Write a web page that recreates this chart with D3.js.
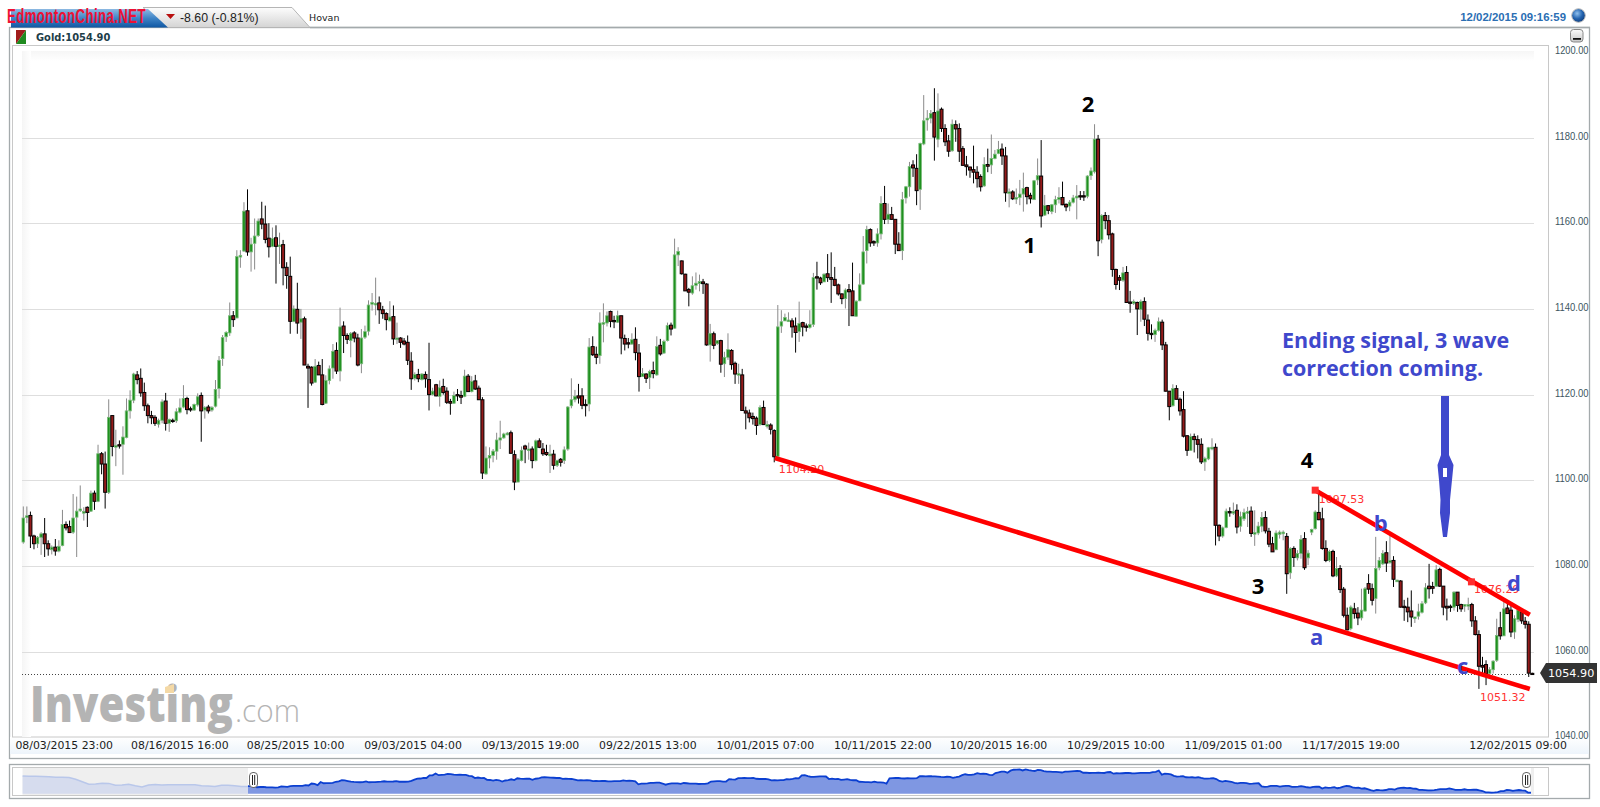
<!DOCTYPE html>
<html><head><meta charset="utf-8">
<script src="https://cdn.jsdelivr.net/npm/d3@7/dist/d3.min.js"></script>
<style>html,body{margin:0;padding:0;background:#fff;overflow:hidden}svg{display:block}</style>
</head><body><svg id="c" width="1600" height="807"></svg>
<script>
// Candles: open, high, low, close, left to right.
const augustCandles=[
[1085.6,1093.9,1085.2,1091.2],[1091.4,1093.9,1090,1091.7],[1091.8,1092.7,1084.2,1087],[1087,1087.3,1083.9,1085.2],[1085.2,1087,1084.2,1086.7],[1086.7,1087.9,1082.6,1087.5],[1087.5,1091.2,1082.1,1085.2],[1085.2,1086,1082.4,1084],[1083.8,1084.8,1082.7,1084.4],[1084.4,1086.3,1082.4,1083.5],[1083.5,1086,1083.2,1084.6],[1084.8,1093.1,1084.6,1089.7],[1089.7,1090.4,1088.3,1088.9],[1089.2,1090.6,1087.7,1087.8],[1087.9,1096.8,1087.5,1091.2],[1091.4,1096.2,1082.1,1092.8],[1092.9,1098.8,1092.6,1093.3],[1092.5,1093.7,1090.6,1092.7],[1093.7,1093.9,1089.1,1092.5],[1092.8,1097.6,1092.6,1097],[1097,1097.6,1093.1,1095.1],[1095.1,1108.3,1094.9,1106.2],[1106.2,1106.6,1101.4,1103.8],[1103.8,1106.7,1093.4,1097.2],[1097.2,1118.9,1096.8,1114.7],[1115.1,1115.1,1105.6,1107.9],[1108,1111.8,1103.3,1108.1],[1108.3,1109.3,1107.4,1108],[1108.4,1112.6,1101.3,1110.1],
[1110,1119.1,1109.8,1116.2],[1116.2,1121,1114.4,1118.7],[1118.7,1125.1,1118,1124.8],[1124.6,1125.5,1122.4,1123.5],[1123.8,1126.1,1119.5,1120.4],[1120.5,1122.8,1116.2,1117.4],[1117.4,1117.9,1113.3,1115.1],[1115.1,1116.2,1113.1,1114.6],[1114.7,1115.2,1112.7,1113.3],[1113.1,1114.4,1112.3,1114],[1114,1118.9,1113.3,1118.3],[1118.5,1120.4,1111.6,1113.3],[1113.3,1114.4,1111.3,1114.2],[1114,1114.4,1113.4,1113.9],[1113.9,1116.8,1113.4,1116],[1115.9,1119.1,1115.6,1116.9],[1117.1,1122.2,1116.8,1119.1],[1119.1,1119.5,1115.4,1116.5],[1116.7,1117.2,1116,1116.5],[1116.4,1117.9,1116.2,1117.7],[1117.6,1120.3,1117.2,1119.5],[1119.8,1120.5,1109,1116.2],[1116.4,1117.3,1114.4,1117],[1117.1,1117.6,1115.6,1116.2],[1116.4,1117.3,1116,1117],[1117.3,1123.4,1117,1121.2],[1121.4,1129,1119.1,1128],[1128.4,1133.9,1126.7,1133.3],[1133.5,1134.8,1132.3,1134.5],[1134.4,1141.5,1133.7,1138.4],[1138.4,1139.5,1135.8,1137.5],[1137.9,1153.7,1137.8,1152.2],[1152.1,1153.7,1149.6,1152.5],[1153.5,1164.9,1153.3,1162.8],[1162.9,1167.9,1152.4,1153.3],[1153.3,1156.6,1148.7,1155.1],[1155.3,1161.1,1149.2,1157],[1157.1,1161.1,1156.8,1160.5],[1161,1165,1158.6,1159.8],[1159.8,1164.1,1155.3,1156.2],[1156.5,1160,1152,1154.5]];
const septemberCandles=[
[1154.6,1159,1154.4,1156.4],[1156.6,1159.5,1145.9,1154.6],[1154.6,1157.8,1150.5,1154.9],[1155,1156.1,1145.5,1149.6],[1149.7,1150.9,1144.7,1147.8],[1147.6,1152.2,1134.2,1137.1],[1137.1,1140.8,1136.9,1140],[1139.9,1146.1,1134.2,1136.7],[1136.9,1140,1133,1137.7],[1137.7,1138.2,1126.9,1126.9],[1126.6,1127.2,1116.9,1126.2],[1126.4,1126.6,1122.1,1122.7],[1122.9,1128.3,1122.7,1126.6],[1126.8,1127.7,1124.6,1124.6],[1124.6,1128.3,1117.5,1117.7],[1118,1124.5,1117.8,1123.3],[1123.3,1126.8,1122.4,1126],[1126.2,1131.8,1123.7,1130.1],[1130.3,1132.2,1124.8,1125.5],[1125.5,1140.3,1123.1,1135.8],[1136,1137.1,1129.7,1133.8],[1133.8,1134.3,1131.8,1132.9],[1132.6,1134.6,1128.7,1134.3],[1134.4,1134.8,1132.2,1133.2],[1133.2,1134.2,1126.6,1126.9],[1127.2,1135.3,1125,1133.2],[1133.4,1136.1,1133,1134.7],[1134.8,1142,1133.8,1140.9],[1141.1,1143.7,1139.6,1141.5],[1141.2,1147.3,1138.5,1141.3],[1141.4,1142.9,1136.5,1139.8],[1139.8,1140.7,1137.7,1138.9],[1138.9,1139.2,1135,1137.5],[1137.2,1141.8,1137.1,1138.1],[1138.2,1140.8,1131.6,1133],[1133,1136.8,1131.8,1133.2],[1133.2,1133.4,1130.9,1132.2],[1132.5,1133.2,1131.5,1131.8],[1132.2,1133.8,1126.9,1128],[1127.8,1129.9,1121.1,1123.7],[1123.8,1125.2,1123.3,1124.7],[1124.7,1126,1122.9,1123.7],[1123.5,1125,1123.3,1124.8],[1124.7,1125.4,1121.6,1123.7],[1123.5,1132.1,1116.3,1120],[1120,1121.6,1119.8,1120.8],[1122.3,1122.5,1119.6,1119.7],[1119.6,1123.3,1117.2,1121.6],[1121.9,1123.7,1120,1120.5],[1120.8,1121.7,1117.8,1118.2],[1118.4,1119,1115.3,1118],[1118,1120.7,1117.8,1119.8],[1120,1121.3,1118.5,1119.7],[1119.8,1120.9,1117.8,1119.4],[1119.6,1125.8,1119.4,1124.3],[1124.3,1124.8,1120.7,1120.7],[1120.7,1124.3,1120.5,1123.1],[1123.2,1124.6,1121.1,1121.3],[1121.5,1122.1,1118.8,1118.8],[1118.8,1119.4,1100.3,1101.7],[1101.5,1107.9,1101.3,1105.2],[1105.2,1107.7,1102.8,1105.8],[1105.8,1107.3,1104.2,1106.8],[1106.8,1111.1,1104.8,1109.4],[1109.4,1113.9,1107.3,1109.9],[1109.9,1111.1,1109.7,1110.8],[1110.8,1111.3,1110.5,1111],[1111.1,1111.6,1106.3,1106.3],[1106,1107,1097.7,1099.6]];
const lateSeptemberCandles=[
[1099.6,1105.2,1099.5,1104.8],[1104.6,1107.9,1104.4,1107],[1108,1108.3,1104,1107.3],[1107.1,1108.8,1104.8,1107.3],[1107.3,1107.9,1102.8,1104.6],[1104.6,1109.5,1104.4,1109.2],[1109.2,1109.8,1107.5,1107.7],[1107.3,1108.7,1105.7,1106.2],[1106.5,1108.3,1105.7,1106],[1106,1108.3,1101.7,1106.1],[1106.1,1107.1,1102.5,1103.5],[1103.5,1104.8,1103.1,1104.6],[1104.9,1105.2,1103.2,1104.2],[1104.6,1107.9,1103.8,1107.1],[1107.3,1117.3,1106.9,1117.1],[1117.4,1123.8,1116.8,1118.8],[1118.8,1121.1,1118.2,1119.6],[1119.7,1122.5,1117.9,1119.2],[1119.7,1121.5,1116.6,1117.5],[1117.7,1118.9,1114.9,1117.5],[1117.8,1133.2,1116.1,1131.1],[1131.2,1133.6,1129,1129.3],[1129.4,1131.2,1127.1,1128.7],[1129.1,1139.2,1127.2,1136.7],[1136.5,1141.3,1132.2,1136.8],[1136.7,1139.4,1135.9,1138.4],[1139.4,1139.6,1135.7,1137.1],[1137.3,1138.4,1135.5,1137],[1136.9,1139.6,1136.7,1138.4],[1138.4,1138.4,1129.4,1133.2],[1133.1,1134,1130.3,1131.8],[1132.1,1133.2,1130.8,1131.8],[1131.8,1134.3,1131.6,1132.8],[1132.9,1135.7,1128,1129.8],[1129.7,1131.8,1120.7,1124.2],[1124.2,1126.2,1124.1,1124.9],[1124.8,1125,1122.7,1123.8],[1124,1125.8,1121.3,1125.4],[1125.6,1127.7,1123.8,1124.9],[1124.6,1133.6,1124.4,1131.2],[1131.5,1133,1129.1,1129.5],[1129.7,1132.8,1129.5,1132.4],[1132.6,1136.8,1132.4,1136.1],[1136.2,1136.8,1133.8,1135.3],[1135.5,1156.4,1135.4,1152.6],[1152.6,1154.4,1150,1153.4],[1151.2,1151.3,1148,1148.2],[1148.1,1148.2,1144.2,1144.2],[1144.5,1144.9,1140.6,1143.9],[1143.7,1147.6,1143.3,1145.4],[1145.5,1148.5,1144.5,1146],[1145.9,1148,1144.1,1146.4],[1146.3,1147,1143.5,1145.9],[1145.8,1146,1131.4,1131.6],[1131.6,1136.5,1127.7,1134.3],[1134.2,1134.7,1130.6,1131.5],[1131.9,1132.7,1131.6,1132.6],[1132.6,1132.8,1125.1,1127.1],[1127.2,1130,1124.1,1128.7],[1128.7,1134.3,1128.1,1130.5],[1130.3,1130.6,1125.8,1127],[1127.3,1127.7,1122.5,1124.8],[1124.8,1127.2,1122.5,1124.9],[1124.6,1126,1116.3,1116.3],[1116.2,1117.2,1111.9,1115.7],[1115.7,1116.5,1113.5,1114.6],[1114.9,1115.8,1113,1114.4],[1114.5,1114.9,1110.6,1112.8]];
const octoberCandles=[
[1113,1117.5,1112.7,1117],[1117,1118.6,1112.9,1113],[1112.6,1113.9,1112.1,1113],[1112.9,1113.3,1110.7,1111.9],[1111.6,1111.9,1104.2,1105.5],[1105.6,1140.9,1105.4,1135.8],[1136,1139.7,1134.4,1137],[1137.2,1138.9,1137.2,1138],[1137.2,1139.2,1137,1137.4],[1137.2,1137.8,1133.3,1135.8],[1136,1138,1129.8,1134.5],[1134.7,1141.7,1132.3,1136.6],[1136.8,1137,1133.6,1135.8],[1136,1136.6,1134.7,1135.7],[1135.7,1139.7,1135.4,1136.4],[1136.4,1148.4,1135.8,1147.3],[1147.5,1151,1144.5,1147.2],[1147.2,1147.5,1145.6,1146.1],[1146.3,1148.3,1146.3,1148.1],[1148.2,1152.8,1146.3,1147.3],[1147.3,1153.2,1141.4,1146.9],[1146.9,1149.8,1145.3,1145.5],[1145.6,1145.9,1143.1,1143.5],[1143.5,1143.6,1141.1,1142.4],[1142.4,1144.8,1140.1,1144.4],[1144.5,1145.8,1136,1144],[1144.2,1150.8,1138.4,1138.4],[1138.3,1142,1138.1,1141.8],[1141.9,1148.3,1141.8,1145.6],[1145.8,1157,1145.6,1153.3],[1153.6,1159.4,1150.6,1158.5],[1158.5,1158.8,1154.5,1155.4],[1155.7,1156,1154.7,1155.4],[1155.4,1158.8,1154.5,1157.5],[1157.5,1166.3,1156.2,1164.6],[1164.6,1168.7,1159.8,1160.9],[1160.9,1164.6,1159.8,1162.1],[1162,1163.8,1160.8,1160.9],[1160.9,1160.9,1152.8,1155.1],[1155.1,1157.9,1153.6,1153.6],[1153.6,1167.3,1151.4,1165.5],[1165.9,1168.7,1164.6,1168.5],[1168.5,1174.3,1166.2,1173.2],[1173.6,1174.7,1170.8,1172.9],[1172.8,1176.1,1164.2,1167.6],[1167.9,1178.8,1163.1,1178.6],[1178.5,1189.9,1178.2,1183.9],[1184.1,1186.4,1181.6,1184.5],[1184.5,1186.4,1183.3,1185.6],[1185.8,1191.5,1174.6,1180.1],[1179.6,1190.3,1177.7,1186.2],[1186.6,1187,1181.3,1182.1],[1182.1,1183.1,1178,1179],[1179.2,1180.6,1175.5,1176.8],[1176.9,1184.2,1176.7,1183.1],[1183,1184,1179,1182],[1182.1,1183.3,1174.3,1176.8],[1177.4,1178,1173.5,1173.5],[1173.6,1175.7,1171.1,1173.2],[1173.1,1173.2,1170.6,1172.4],[1172.5,1178.1,1169.3,1171.9],[1171.9,1173.3,1168.3,1170.4],[1170.9,1171.4,1167.4,1168.5],[1168.7,1175.4,1168.5,1173.7],[1173.7,1177.4,1171.9,1173.3],[1173.6,1180.7,1171.5,1175.1],[1175.1,1177.1,1174.9,1176.1],[1176.3,1179.2,1176.1,1177.2],[1177.3,1178.6,1173.6,1175.7]];
const lateOctoberCandles=[
[1175.7,1177.8,1165,1167.1],[1167.1,1168.1,1163.7,1167.3],[1167.3,1167.7,1165.4,1165.7],[1165.7,1168.1,1164.5,1166],[1166,1170.1,1164.2,1166.8],[1166.8,1171.8,1162.7,1168.1],[1168.3,1168.5,1164.4,1166.2],[1166.5,1167.1,1164.6,1165.7],[1165.5,1170.1,1165.4,1169.9],[1170.1,1175.1,1168.9,1171.1],[1171,1179.4,1159,1161.7],[1161.9,1166.6,1161.7,1164.1],[1164.1,1164.2,1162.1,1163],[1162.7,1164.5,1162.1,1164.3],[1164.3,1166.4,1162.4,1165.5],[1165.5,1168.4,1164.6,1166],[1166,1169.7,1164.2,1164.3],[1164.4,1164.6,1162.8,1163.8],[1164,1165.4,1162.8,1164.9],[1164.9,1166.6,1164.6,1165.9],[1165.9,1168.9,1160.9,1166.3],[1166.4,1167.5,1165.4,1166.2],[1166.4,1167.5,1165.2,1166.2],[1166.3,1171.2,1165.8,1171],[1171.1,1173,1170.1,1172.2],[1172,1183.1,1171.6,1179.6],[1179.6,1180.6,1152.3,1155.9],[1156.2,1162.1,1155.3,1161.8],[1161.8,1162.6,1158.6,1160.6],[1160.6,1161.9,1156.2,1157.3],[1157.5,1157.8,1147.5,1149.2],[1149.2,1149.4,1144.5,1145.7],[1147.3,1147.9,1144.4,1146.7],[1146.7,1149.8,1146.3,1148.4],[1148.5,1150,1141.5,1141.5],[1141.6,1144.2,1139.1,1141.3],[1141.3,1142.2,1140.9,1141.7],[1141.5,1141.7,1133.9,1140],[1139.9,1142.2,1137,1141.7],[1141.7,1142.7,1136,1137.6],[1137.4,1138.7,1132.6,1134.3],[1134.3,1136.4,1132.9,1134],[1134,1135.4,1132.3,1135],[1135,1138,1134.7,1137],[1136.9,1137.5,1130.4,1131.6],[1131.6,1132.3,1120.7,1120.8],[1120.8,1120.8,1114,1117.2],[1117.4,1122.4,1117.2,1121.4],[1121.4,1122.2,1118.9,1118.9],[1118.9,1119.3,1115.1,1116.2],[1116.5,1120.8,1110,1110.3],[1110.4,1110.5,1105.7,1107],[1107,1110.9,1106.9,1110.2],[1110.2,1110.9,1106.5,1109.5],[1109.5,1110.5,1105.1,1108.4],[1108.4,1109.8,1103.8,1104.3],[1104.3,1105.5,1102.2,1105.1],[1105,1107.8,1104.7,1107.6],[1107.5,1109.8,1107,1107.7],[1107.7,1108.6,1084.8,1089.5],[1089.5,1089.7,1085.8,1087],[1087,1089.2,1086.6,1088.9],[1089,1093.4,1088.8,1092.8],[1092.7,1093.7,1091.5,1092.4],[1092.4,1094.8,1091.9,1092.7],[1093,1094.4,1087.6,1089.1],[1089.3,1092.7,1088,1091.5],[1091,1093.4,1090.5,1092.5],[1092.3,1093.8,1089.1,1092.7]];
const novemberCandles=[
[1092.8,1093.9,1086.8,1087.6],[1087.6,1093,1084.7,1087.8],[1087.7,1090.3,1087.2,1089.3],[1089.3,1092.6,1087.9,1091.3],[1091.3,1092.8,1087.6,1088.2],[1088.1,1088.9,1084.4,1085.1],[1085.2,1086.8,1083.3,1083.3],[1083.8,1088.3,1083.7,1087.7],[1087.4,1088.3,1086.4,1087.9],[1087.6,1088.3,1086,1087.9],[1086.9,1087.7,1073.5,1078.2],[1078.4,1084.4,1077,1084.1],[1084.1,1084.6,1079.8,1082],[1081.9,1083.7,1081.3,1082.9],[1082.9,1087.2,1081.7,1086.2],[1086.4,1087.9,1079.1,1079.6],[1081.9,1083.7,1080.2,1083],[1087.9,1088.7,1087.2,1088.5],[1088.7,1093,1088.5,1092.6],[1092.5,1097.7,1090.7,1090.8],[1091,1093.6,1083.8,1084.1],[1084.1,1086,1080.9,1081.3],[1081.3,1083.8,1080.9,1083.4],[1083.4,1083.8,1077.4,1077.7],[1077.7,1082.1,1077.4,1079.4],[1079.4,1080.2,1073.7,1074.5],[1074.6,1075.1,1068,1068.5],[1068.5,1070.3,1065,1065.1],[1065.4,1070.8,1065,1070.4],[1070,1071.4,1067.7,1068.9],[1069,1070.4,1066.2,1067.9],[1067.9,1074.7,1067.3,1069.7],[1069.5,1075.1,1069.3,1074.7],[1075.9,1078.1,1073.5,1074.6],[1074.7,1075.9,1070.8,1072],[1072.4,1086.8,1068.9,1079.4],[1079.6,1082.1,1079,1081.3],[1080.5,1083.7,1080.2,1082.9],[1083.1,1085.8,1078.6,1080.7],[1080.8,1087.2,1080.5,1081.3],[1081.3,1082.3,1075.1,1076.9],[1076.5,1076.8,1076.3,1076.7],[1076.5,1076.7,1070.3,1070.4],[1070.6,1072.1,1067.2,1070.3],[1070.4,1072.6,1066.9,1069.3],[1069.5,1074.3,1065.8,1068.1],[1067.9,1068.1,1066.7,1068.1],[1068.3,1071.2,1067.5,1069.3],[1069.2,1071.8,1068.9,1071.2],[1071.4,1076,1071.1,1074.9],[1075.3,1080.5,1072.4,1074.7],[1075.2,1076.3,1073.5,1074.8],[1075.3,1080.2,1075.1,1079.1],[1079.2,1079.6,1075.1,1075.3],[1075.3,1075.3,1068.5,1070.4],[1070.6,1072.4,1067.3,1070.2],[1070.6,1071,1069.3,1070.3],[1070.4,1074.1,1069.6,1073.9],[1073.9,1073.9,1069.3,1070.8],[1071,1071.2,1069.3,1070],[1070.8,1071.1,1069.3,1071],[1070.8,1072.6,1069.7,1071],[1071,1071.4,1065.8,1067.2],[1067.2,1068.3,1063.8,1064],[1064,1065,1051.32,1056.6],[1056.8,1058.8,1054.9,1056.4],[1057,1058,1052.2,1054.9],[1054.9,1056.4,1054.1,1055.8],[1055.8,1058,1054.9,1057.8],[1058,1067.7,1057.6,1063.8],[1065.6,1069.3,1062.8,1063.7],[1063.7,1071.6,1063.8,1070],[1070.2,1071.6,1068.9,1068.9],[1069.7,1070.8,1063.4,1064.6],[1064.6,1068.5,1063,1067.7],[1067.5,1069.8,1066.9,1069.7],[1069.3,1069.7,1066.5,1067.2],[1067.1,1068.1,1065.4,1066.4],[1066.4,1067.1,1054.1,1055],[1054.95,1055.1,1054.7,1054.85]];
const candles=[...augustCandles,...septemberCandles,...lateSeptemberCandles,...octoberCandles,...lateOctoberCandles,...novemberCandles];
const priceTicks=[1200,1180,1160,1140,1120,1100,1080,1060,1040];
const dateLabels=["08/03/2015 23:00","08/16/2015 16:00","08/25/2015 10:00","09/03/2015 04:00","09/13/2015 19:00","09/22/2015 13:00","10/01/2015 07:00","10/11/2015 22:00","10/20/2015 16:00","10/29/2015 10:00","11/09/2015 01:00","11/17/2015 19:00","12/02/2015 09:00"];
const dateLabelCandle=[11.5,44,76.5,109.5,142.5,175.5,208.5,241.5,274,307,340,373,420];
const lastPrice=1054.90;
const earlierHistory=[1148,1147,1147,1146,1144,1142,1141,1140,1130,1116,1102,1103,1108,1107,1096,1098,1102,1094,1087,1098,1100,1098,1099,1099,1099,1100,1099,1094,1092,1090,1096,1096,1094,1090,1090];
const priceLabels=[{t:"1104.20",p:1101.6,i:212.3},{t:"1097.53",p:1094.7,i:364},{t:"1076.29",p:1073.6,i:407.6},{t:"1051.32",p:1048.5,i:409.3}];

const svg=d3.select("#c");
const defs=svg.append("defs");
function grad(id,stops,x2,y2){const g=defs.append("linearGradient").attr("id",id).attr("x1",0).attr("y1",0).attr("x2",x2).attr("y2",y2);
 stops.forEach(s=>g.append("stop").attr("offset",s[0]).attr("stop-color",s[1]));}
// Squeeze a text horizontally to a given width without changing its height
function fitWidth(sel,left,baseline,width){const n=sel.node().getComputedTextLength();
 sel.attr("x",0).attr("y",0).attr("transform",`translate(${left},${baseline}) scale(${width/n},1)`);return sel;}
grad("blueTab",[[0,"#8db9e2"],[0.5,"#3f84c6"],[1,"#0f57a3"]],0,1);
grad("grayTab",[[0,"#fdfdfd"],[1,"#d4d4d4"]],0,1);
grad("band",[[0,"#ffffff"],[1,"#edf4fb"]],0,1);
grad("shadeL",[[0,"#f5f5f5"],[1,"#ffffff"]],1,0);
grad("shadeT",[[0,"#f6f6f6"],[1,"#ffffff"]],0,1);
grad("btn",[[0,"#fcfcfc"],[1,"#c8c8c8"]],0,1);
const glob=defs.append("radialGradient").attr("id","globe").attr("cx",0.4).attr("cy",0.35).attr("r",0.7);
glob.append("stop").attr("offset",0).attr("stop-color","#8fc0ee");glob.append("stop").attr("offset",0.55).attr("stop-color","#2464b0");glob.append("stop").attr("offset",1).attr("stop-color","#0d3a78");

const x=d3.scaleLinear().domain([0,candles.length-1]).range([23.3,1532.3]);
const y=d3.scaleLinear().domain([1040,1200]).range([737.4,51.8]);
const plotL=22,plotR=1534;

// Frames
svg.append("rect").attr("x",9.5).attr("y",27.5).attr("width",1580).attr("height",731).attr("fill","#fff").attr("stroke","#a4aaac").attr("stroke-width",1.3);
svg.append("rect").attr("x",10).attr("y",737).attr("width",1579).attr("height",17).attr("fill","url(#band)");
svg.append("rect").attr("x",12.5).attr("y",45.5).attr("width",1536).attr("height",691.5).attr("fill","#fff").attr("stroke","#c8c8c8");
svg.append("rect").attr("x",plotL).attr("y",51).attr("width",plotR-plotL).attr("height",10).attr("fill","url(#shadeT)");
svg.append("rect").attr("x",plotL).attr("y",51).attr("width",9).attr("height",686).attr("fill","url(#shadeL)");

// Header tabs
svg.append("path").attr("d","M143,7.5 L292,7.5 L310,27.5 L165,27.5 Z").attr("fill","url(#grayTab)").attr("stroke","#b5b5b5");
svg.append("path").attr("d","M11,27.5 L11,9 L148,9 L168,27.5 Z").attr("fill","url(#blueTab)");
svg.append("path").attr("d","M166,14 L175,14 L170.5,19 Z").attr("fill","#b80f0f");
svg.append("line").attr("x1",310).attr("x2",1590).attr("y1",27.5).attr("y2",27.5).attr("stroke","#a4aaac").attr("stroke-width",1.3);
svg.append("text").attr("x",180).attr("y",22).attr("font-family","Liberation Sans").attr("font-size",12.3).attr("fill","#222").text("-8.60 (-0.81%)");
svg.append("text").attr("x",309).attr("y",21).attr("font-family","DejaVu Sans").attr("font-size",9.5).attr("fill","#222").text("Hovan");
fitWidth(svg.append("text").attr("font-family","Liberation Sans").attr("font-weight","bold").attr("font-size",20.5).attr("letter-spacing",0.6).attr("fill","#ee1133").text("EdmontonChina.NET"),7,23,139);
svg.append("text").attr("x",1566).attr("y",21).attr("text-anchor","end").attr("font-family","Liberation Sans").attr("font-weight","bold").attr("font-size",11.4).attr("fill","#2b6eb3").text("12/02/2015 09:16:59");
svg.append("circle").attr("cx",1578.5).attr("cy",15.5).attr("r",6.8).attr("fill","url(#globe)").attr("stroke","#bbb");

// Legend
svg.append("path").attr("d","M16,30 L26,30 L16,44 Z").attr("fill","#a01c1c");
svg.append("path").attr("d","M26,30 L26,44 L16,44 Z").attr("fill","#1f8a1f");
svg.append("text").attr("x",36).attr("y",40.5).attr("font-family","DejaVu Sans").attr("font-weight","bold").attr("font-size",9.9).attr("fill","#1d3d49").text("Gold:1054.90");
// Minimise button
svg.append("rect").attr("x",1570.5).attr("y",29.5).attr("width",12.5).attr("height",12.5).attr("rx",3).attr("fill","url(#btn)").attr("stroke","#8a8a8a");
svg.append("rect").attr("x",1573).attr("y",38).attr("width",8).attr("height",1.8).attr("fill","#111");

// Gridlines and price axis
const gridTicks=priceTicks.filter(v=>v!==1200&&v!==1040);
svg.append("g").selectAll("line").data(gridTicks).join("line")
 .attr("x1",plotL).attr("x2",plotR).attr("y1",d=>Math.round(y(d))+.5).attr("y2",d=>Math.round(y(d))+.5).attr("stroke","#dedede").attr("stroke-width",1);
svg.append("g").selectAll("text").data(priceTicks).join("text")
 .attr("x",1555).attr("y",d=>y(d)+2).attr("font-family","Liberation Sans").attr("font-size",10.3).attr("fill","#3b5560")
 .attr("textLength",33.5).attr("lengthAdjust","spacingAndGlyphs").text(d=>d.toFixed(2));
// Date axis
svg.append("g").selectAll("text").data(dateLabels).join("text")
 .attr("x",(d,i)=>x(dateLabelCandle[i])).attr("y",749.3).attr("text-anchor","middle").attr("font-family","DejaVu Sans").attr("font-size",10.9).attr("fill","#1b1b1b").text(d=>d);

// Logo
fitWidth(svg.append("text").attr("font-family","Open Sans").attr("font-weight",800).attr("font-size",50).attr("fill","#b4b4b4").text("Investing"),30,722,203);
fitWidth(svg.append("text").attr("font-family","Open Sans").attr("font-weight",300).attr("font-size",31).attr("fill","#b4b4b4").text(".com"),235,722,65);
svg.append("path").attr("d","M165,687 L174,684 L174,693 L165,693 Z").attr("fill","#f4d9a6");

// Last price dotted line
svg.append("line").attr("x1",plotL).attr("x2",plotR).attr("y1",Math.round(y(lastPrice))+.5).attr("y2",Math.round(y(lastPrice))+.5).attr("stroke","#444").attr("stroke-width",1).attr("stroke-dasharray","1 2");

// Candles
const g=svg.append("g");
const up=d=>d[3]>=d[0];
g.selectAll("line").data(candles).join("line")
 .attr("x1",(d,i)=>x(i)).attr("x2",(d,i)=>x(i)).attr("y1",d=>y(d[1])).attr("y2",d=>y(d[2]))
 .attr("stroke",d=>up(d)?"#8a8a8a":"#000").attr("stroke-width",1);
g.selectAll("rect").data(candles).join("rect")
 .attr("x",(d,i)=>x(i)-(up(d)?1.3:1.5)).attr("width",d=>up(d)?2.6:3)
 .attr("y",d=>y(Math.max(d[0],d[3])))
 .attr("height",d=>Math.max(up(d)?1.6:1.2,Math.abs(y(d[0])-y(d[3]))))
 .attr("fill",d=>up(d)?"#1f911f":"#931a1a")
 .attr("stroke",d=>up(d)?"#7abb7a":"#000").attr("stroke-width",d=>up(d)?0.8:1);

// Price labels lie under the annotation lines
svg.append("g").selectAll("text").data(priceLabels).join("text")
 .attr("x",d=>x(d.i)).attr("y",d=>y(d.p)).attr("font-family","DejaVu Sans").attr("font-size",11).attr("fill","#ff3333").text(d=>d.t);

// Annotation lines, drawn in chart coordinates
const trend=d3.line().x(d=>x(d[0])).y(d=>y(d[1]));
const lowerTrend=[[211.2,1105.2],[423.3,1051.3]];
const upperTrend=[[363,1097.7],[423.3,1068.6]];
const trendMarkers=[[363,1097.7],[406.9,1076.3]];
svg.append("g").selectAll("path").data([lowerTrend,upperTrend]).join("path").attr("d",trend).attr("fill","none").attr("stroke","#ff0000").attr("stroke-width",4.6);
svg.append("g").selectAll("rect").data(trendMarkers).join("rect").attr("x",d=>x(d[0])-3.5).attr("y",d=>y(d[1])-3.5).attr("width",7).attr("height",7).attr("fill","#ff2d2d");

// Blue arrow
svg.append("path").attr("d","M1441,396 L1449,396 L1449,455 L1453.5,465 L1452,480 L1450,500 L1450,513 L1448.5,525 L1447,537 L1443,537 L1441.5,525 L1440,513 L1440.5,500 L1439,480 L1437.5,465 L1441,455 Z").attr("fill","#3f48cc");
svg.append("rect").attr("x",1443).attr("y",468).attr("width",4).attr("height",9).attr("fill","#fff");

// Wave labels
const waves=[{t:"1",x:1029.5,y:253,c:"#000"},{t:"2",x:1088,y:112,c:"#000"},{t:"3",x:1258,y:594,c:"#000"},{t:"4",x:1307,y:468,c:"#000"},
 {t:"a",x:1316.7,y:645,c:"#3f48cc"},{t:"b",x:1380.7,y:531,c:"#3f48cc"},{t:"c",x:1462.7,y:674,c:"#3f48cc"},{t:"d",x:1514,y:591,c:"#3f48cc"}];
svg.append("g").selectAll("text").data(waves).join("text").attr("x",d=>d.x).attr("y",d=>d.y).attr("text-anchor","middle")
 .attr("font-family","Open Sans").attr("font-weight",700).attr("font-size",22).attr("fill",d=>d.c).text(d=>d.t);
svg.append("text").attr("x",1282).attr("y",347.5).attr("font-family","Open Sans").attr("font-weight",700).attr("font-size",21.5).attr("fill","#3f48cc").text("Ending signal, 3 wave");
svg.append("text").attr("x",1282).attr("y",375.5).attr("font-family","Open Sans").attr("font-weight",700).attr("font-size",21.5).attr("fill","#3f48cc").text("correction coming.");

// Navigator
svg.append("rect").attr("x",9.5).attr("y",764.5).attr("width",1580).attr("height",34).attr("fill","#fff").attr("stroke","#a4aaac").attr("stroke-width",1.3);
svg.append("rect").attr("x",12.5).attr("y",767.5).attr("width",1536).attr("height",28).attr("fill","#fff").attr("stroke","#c8c8c8");
const navBase=793.7;
const ny=d3.scaleLinear().domain([1055,1191]).range([792.6,768.5]);
const nxHist=d3.scaleLinear().domain([0,earlierHistory.length-1]).range([22.6,248]);
const nxSel=d3.scaleLinear().domain([0,candles.length-1]).range([248,1531]);
const closes=candles.map(d=>d[3]);
svg.append("rect").attr("x",22.5).attr("y",768).attr("width",225.5).attr("height",27).attr("fill","#efefef");
svg.append("rect").attr("x",1531).attr("y",768).attr("width",3).attr("height",27).attr("fill","#efefef");
const areaH=d3.area().x((d,i)=>nxHist(i)).y0(navBase).y1(d=>ny(d));
const lineH=d3.line().x((d,i)=>nxHist(i)).y(d=>ny(d));
const areaS=d3.area().x((d,i)=>nxSel(i)).y0(navBase).y1(d=>ny(d));
const lineS=d3.line().x((d,i)=>nxSel(i)).y(d=>ny(d));
svg.append("path").attr("d",areaH(earlierHistory)).attr("fill","#d6dcee");
svg.append("path").attr("d",lineH(earlierHistory)).attr("fill","none").attr("stroke","#b9c7ea").attr("stroke-width",1.5);
svg.append("path").attr("d",areaS(closes)).attr("fill","#7f97e2");
svg.append("path").attr("d",lineS(closes)).attr("fill","none").attr("stroke","#0b3fd1").attr("stroke-width",1.8);
[253.5,1526.5].forEach(hx=>{
 svg.append("rect").attr("x",hx-4).attr("y",772.5).attr("width",8).attr("height",15).attr("rx",3.5).attr("fill","#fff").attr("stroke","#666");
 svg.append("line").attr("x1",hx-1).attr("x2",hx-1).attr("y1",775).attr("y2",785).attr("stroke","#222");
 svg.append("line").attr("x1",hx+1.2).attr("x2",hx+1.2).attr("y1",775).attr("y2",785).attr("stroke","#222");
});

// Last price tag
svg.append("path").attr("d","M1540,673 L1546,663 L1597,663 L1597,683 L1546,683 Z").attr("fill","#333");
svg.append("text").attr("x",1548).attr("y",677).attr("font-family","DejaVu Sans").attr("font-size",11.2).attr("fill","#fff").text(lastPrice.toFixed(2));
</script></body></html>
